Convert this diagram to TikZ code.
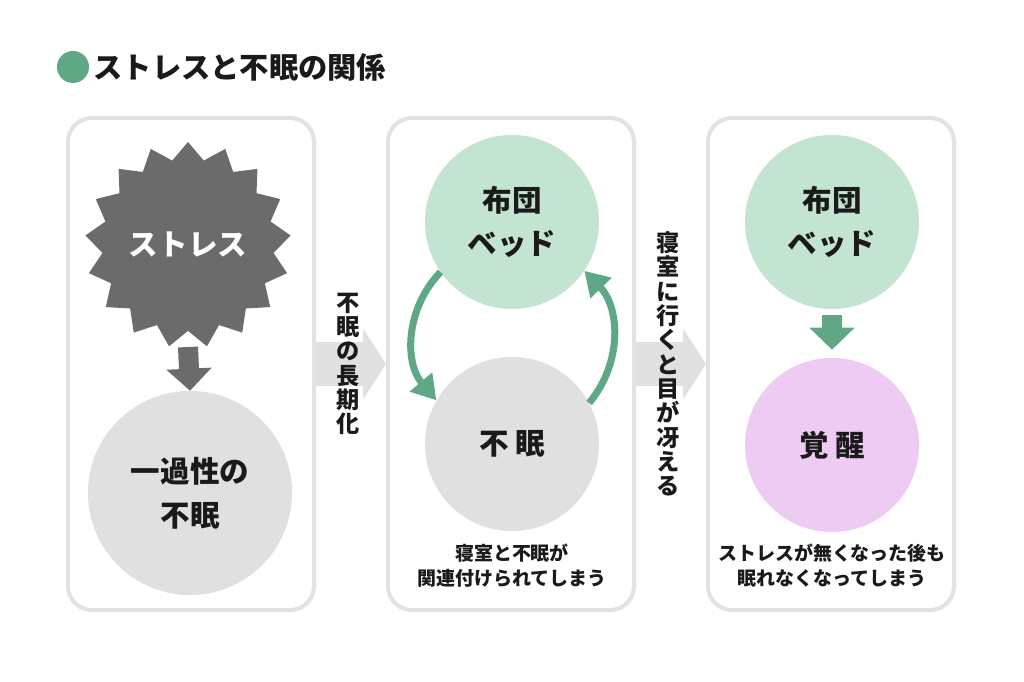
\documentclass[tikz,border=0pt]{standalone}
\usepackage{fontspec}
\setmainfont{Noto Sans CJK JP}
\usepackage{tikz}
\usetikzlibrary{positioning, shapes.geometric, arrows.meta}

\definecolor{midgreen}{HTML}{5EA886}
\definecolor{softgreen}{HTML}{C4E4D2}
\definecolor{softgrey}{HTML}{E0E0E0}
\definecolor{softpink}{HTML}{EECBF2}
\definecolor{stargrey}{HTML}{6B6B6B}
\definecolor{panelgrey}{HTML}{E2E2E2}
\definecolor{ink}{HTML}{1A1A1A}

\begin{document}
\begin{tikzpicture}[x=0.025cm, y=0.025cm,
    panel/.style={draw=panelgrey, line width=2.85pt, rounded corners=0.6cm, minimum width=6.15cm, minimum height=12.3cm},
    bubble/.style={circle, minimum size=4.35cm, inner sep=0, align=center, text=ink, font=\fontsize{21}{30.6}\selectfont\bfseries},
    note/.style={align=center, text=ink, font=\fontsize{13.5}{17.8}\selectfont\bfseries},
    tate/.style={align=center, inner sep=0, text=ink, font=\fontsize{16.5}{17.3}\selectfont\bfseries},
    drop/.style={line width=0.5cm, -{Triangle[length=0.55cm, width=1.1cm]}},
    link/.style={draw=softgrey, line width=1.1cm, -{Triangle[length=0.575cm, width=1.75cm]}},
    loopArrow/.style={draw=midgreen, line width=0.175cm, -{Triangle[length=0.6cm, width=0.7cm]}}]

    \fill[white] (0,0) rectangle (1024,682);
    \useasboundingbox (0,0) rectangle (1024,682);

    % title
    \node[circle, fill=midgreen, minimum size=0.8cm, inner sep=0] (dot) at (73,615) {};
    \node[right=0.1cm of dot, inner sep=0, text=ink, font=\fontsize{20.8}{24}\selectfont\bfseries] (title) {ストレスと不眠の関係};

    % panels
    \node[panel] (p1) at (191,318) {};
    \node[panel] (p2) at (511,318) {};
    \node[panel] (p3) at (831,318) {};

    % panel 1
    \node[star, star points=17, star point ratio=1.2, minimum size=5.15cm, inner sep=0, fill=stargrey, text=white, font=\fontsize{21}{24}\selectfont\bfseries] (stress) at (188,437) {ストレス};
    \node[bubble, fill=softgrey, minimum size=5.1cm, font=\fontsize{21}{31}\selectfont\bfseries] (once) at (190,189) {一過性の\\不眠};
    \draw[drop, stargrey] ([yshift=-2.55cm]stress.center) -- (once.north);

    % panel 2
    \node[bubble, fill=softgreen] (bed) at (512,460) {布団\\ベッド};
    \node[bubble, fill=softgrey] (sleepless) at (512,238) {不 眠};
    \node[note] (noteB) at (512,116) {寝室と不眠が\\関連付けられてしまう};
    \draw[loopArrow] (bed.215) to[bend right=42] (sleepless.150);
    \draw[loopArrow] (sleepless.28) to[bend right=42] (bed.-34);

    % panel 3
    \node[bubble, fill=softgreen] (bedB) at (832,460) {布団\\ベッド};
    \node[bubble, fill=softpink] (wake) at (832,237) {覚 醒};
    \node[note] (noteC) at (832,116) {ストレスが無くなった後も\\眠れなくなってしまう};
    \draw[drop, midgreen, shorten <=0.15cm, shorten >=0.2cm] (bedB) -- (wake);

    % between panels
    \draw[link] (p1.east) -- (p2.west) node[midway, tate, xshift=-0.075cm] (lblA) {不\\眠\\の\\長\\期\\化};
    \draw[link] (p2.east) -- (p3.west) node[midway, tate, xshift=-0.075cm] (lblB) {寝\\室\\に\\行\\く\\と\\目\\が\\冴\\え\\る};
\end{tikzpicture}
\end{document}
